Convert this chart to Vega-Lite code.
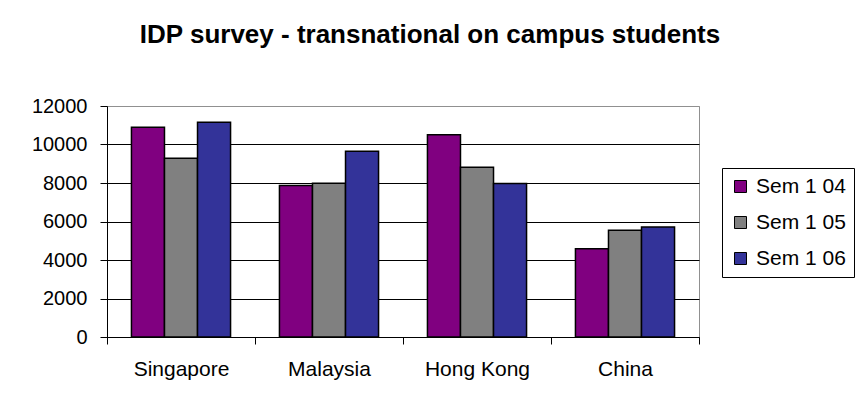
{
  "$schema": "https://vega.github.io/schema/vega-lite/v6.json",
  "width": 592,
  "height": 231,
  "autosize": {"type": "none"},
  "padding": {"left": 107, "top": 106, "right": 161, "bottom": 75},
  "background": "white",
  "title": {
    "text": "IDP survey - transnational on campus students",
    "font": "Liberation Sans",
    "fontSize": 26,
    "fontWeight": "bold",
    "color": "black",
    "anchor": "middle",
    "baseline": "alphabetic",
    "dx": 27,
    "offset": 27
  },
  "data": {
    "values": [
      {"country": "Singapore", "semester": "Sem 1 04", "students": 10890},
      {"country": "Singapore", "semester": "Sem 1 05", "students": 9290},
      {"country": "Singapore", "semester": "Sem 1 06", "students": 11160},
      {"country": "Malaysia", "semester": "Sem 1 04", "students": 7870},
      {"country": "Malaysia", "semester": "Sem 1 05", "students": 7990},
      {"country": "Malaysia", "semester": "Sem 1 06", "students": 9650},
      {"country": "Hong Kong", "semester": "Sem 1 04", "students": 10510},
      {"country": "Hong Kong", "semester": "Sem 1 05", "students": 8820},
      {"country": "Hong Kong", "semester": "Sem 1 06", "students": 7980},
      {"country": "China", "semester": "Sem 1 04", "students": 4590},
      {"country": "China", "semester": "Sem 1 05", "students": 5550},
      {"country": "China", "semester": "Sem 1 06", "students": 5720}
    ]
  },
  "mark": {"type": "bar", "stroke": "black", "strokeWidth": 1.5},
  "encoding": {
    "x": {
      "field": "country",
      "type": "nominal",
      "sort": ["Singapore", "Malaysia", "Hong Kong", "China"],
      "scale": {"paddingInner": 0, "paddingOuter": 0},
      "axis": {
        "title": null,
        "labelAngle": 0,
        "tickBand": "extent",
        "tickSize": 7,
        "tickColor": "black",
        "domainColor": "black",
        "labelFont": "Liberation Sans",
        "labelFontSize": 21,
        "labelColor": "black",
        "labelBaseline": "alphabetic",
        "labelPadding": 31
      }
    },
    "xOffset": {
      "field": "semester",
      "type": "nominal",
      "scale": {"paddingInner": 0, "paddingOuter": 0.74}
    },
    "y": {
      "field": "students",
      "type": "quantitative",
      "scale": {"domain": [0, 12000], "nice": false},
      "axis": {
        "title": null,
        "values": [0, 2000, 4000, 6000, 8000, 10000, 12000],
        "format": "d",
        "grid": true,
        "gridColor": {"condition": {"test": "datum.value === 12000", "value": "#909090"}, "value": "black"},
        "gridOpacity": 1,
        "tickSize": 7,
        "tickColor": "black",
        "domainColor": "black",
        "labelFont": "Liberation Sans",
        "labelFontSize": 20,
        "labelColor": "black",
        "labelPadding": 13
      }
    },
    "color": {
      "field": "semester",
      "type": "nominal",
      "scale": {"domain": ["Sem 1 04", "Sem 1 05", "Sem 1 06"], "range": ["#800080", "#808080", "#333399"]},
      "legend": {
        "title": null,
        "orient": "none",
        "legendX": 615,
        "legendY": 62,
        "symbolType": "square",
        "symbolSize": 144,
        "symbolStrokeColor": "black",
        "symbolStrokeWidth": 1,
        "symbolOpacity": 1,
        "labelFont": "Liberation Sans",
        "labelFontSize": 21,
        "labelColor": "black",
        "labelOffset": 5,
        "rowPadding": 14,
        "padding": 8,
        "strokeColor": "black",
        "fillColor": "white"
      }
    }
  },
  "config": {
    "view": {"stroke": "#909090", "strokeWidth": 1},
    "axis": {"domainWidth": 1, "tickWidth": 1, "gridWidth": 1}
  }
}
